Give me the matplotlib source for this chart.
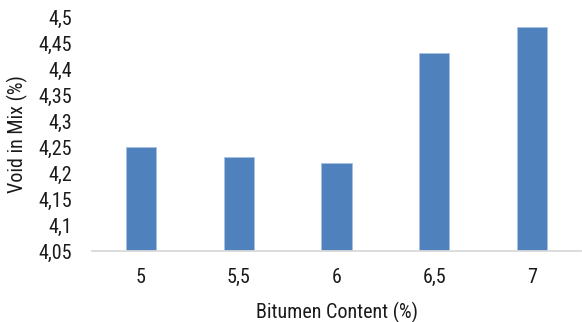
import matplotlib
matplotlib.use("Agg")
import matplotlib.pyplot as plt

plt.rcParams['font.family'] = ['Roboto Condensed', 'Liberation Sans', 'DejaVu Sans']

categories = ["5", "5,5", "6", "6,5", "7"]
void_in_mix = [4.25, 4.23, 4.22, 4.43, 4.48]
y_ticks = [4.05, 4.10, 4.15, 4.20, 4.25, 4.30, 4.35, 4.40, 4.45, 4.50]
y_tick_labels = ["4,05", "4,1", "4,15", "4,2", "4,25", "4,3", "4,35", "4,4", "4,45", "4,5"]

W, H = 582, 322
fig = plt.figure(figsize=(W / 100, H / 100), dpi=100)
left, right, bottom, top = 92, 581, 251, 17
ax = fig.add_axes([left / W, (H - bottom) / H, (right - left) / W, (bottom - top) / H])

x = range(len(categories))
ax.bar(x, [v - 4.05 for v in void_in_mix], bottom=4.05, width=0.31,
       color="#4F81BD", edgecolor="#A9C1E0", linewidth=0.6, zorder=2)

ax.set_xlim(-0.5, len(categories) - 0.5)
ax.set_ylim(4.05, 4.5)
ax.set_xticks(list(x))
ax.set_xticklabels(categories)
ax.set_yticks(y_ticks)
ax.set_yticklabels(y_tick_labels)

for s in ["top", "right", "left"]:
    ax.spines[s].set_visible(False)
ax.spines["bottom"].set_color("#D9D9D9")
ax.spines["bottom"].set_linewidth(1.3)
ax.spines["bottom"].set_zorder(3)

ax.tick_params(axis="both", length=0, labelsize=14.5, colors="#1a1a1a")
ax.tick_params(axis="y", pad=14)
ax.tick_params(axis="x", pad=12)

ax.set_xlabel("Bitumen Content (%)", fontsize=14.5, color="#1a1a1a", labelpad=11)
ax.set_ylabel("Void in Mix (%)", fontsize=14.5, color="#1a1a1a", labelpad=8)

fig.savefig("out.png", dpi=100, facecolor="white")
